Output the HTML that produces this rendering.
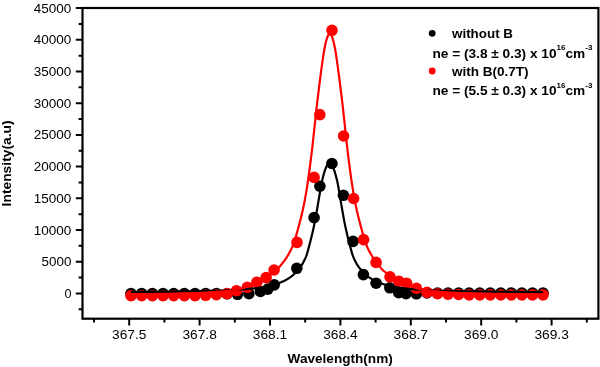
<!DOCTYPE html><html><head><meta charset="utf-8"><title>Spectrum</title><style>html,body{margin:0;padding:0;background:#fff}svg{display:block}</style></head><body><svg width="600" height="367" viewBox="0 0 600 367">
<rect width="600" height="367" fill="#fff"/>
<circle cx="131.0" cy="293.6" r="5.8" fill="#000"/>
<circle cx="141.67" cy="293.6" r="5.8" fill="#000"/>
<circle cx="152.34" cy="293.6" r="5.8" fill="#000"/>
<circle cx="163.01" cy="293.6" r="5.8" fill="#000"/>
<circle cx="173.68" cy="293.6" r="5.8" fill="#000"/>
<circle cx="184.35" cy="293.6" r="5.8" fill="#000"/>
<circle cx="195.01999999999998" cy="293.6" r="5.8" fill="#000"/>
<circle cx="205.69" cy="293.6" r="5.8" fill="#000"/>
<circle cx="216.36" cy="293.6" r="5.8" fill="#000"/>
<circle cx="227.03" cy="293.8" r="5.8" fill="#000"/>
<circle cx="237.5" cy="294.3" r="5.8" fill="#000"/>
<circle cx="248.9" cy="293.7" r="5.8" fill="#000"/>
<circle cx="260.4" cy="291.5" r="5.8" fill="#000"/>
<circle cx="267.8" cy="289.09999999999997" r="5.8" fill="#000"/>
<circle cx="274.2" cy="284.9" r="5.8" fill="#000"/>
<circle cx="296.8" cy="268.3" r="5.8" fill="#000"/>
<circle cx="314.1" cy="217.6" r="5.8" fill="#000"/>
<circle cx="319.9" cy="186.2" r="5.8" fill="#000"/>
<circle cx="331.9" cy="163.5" r="5.8" fill="#000"/>
<circle cx="343.4" cy="195.29999999999998" r="5.8" fill="#000"/>
<circle cx="353" cy="241.39999999999998" r="5.8" fill="#000"/>
<circle cx="363.4" cy="274.59999999999997" r="5.8" fill="#000"/>
<circle cx="376.1" cy="283.2" r="5.8" fill="#000"/>
<circle cx="389.8" cy="287.8" r="5.8" fill="#000"/>
<circle cx="398.7" cy="292.7" r="5.8" fill="#000"/>
<circle cx="406" cy="293.7" r="5.8" fill="#000"/>
<circle cx="416.4" cy="293.8" r="5.8" fill="#000"/>
<circle cx="426.95" cy="293.0" r="5.8" fill="#000"/>
<circle cx="437.5" cy="293.0" r="5.8" fill="#000"/>
<circle cx="448.04999999999995" cy="293.0" r="5.8" fill="#000"/>
<circle cx="458.59999999999997" cy="293.0" r="5.8" fill="#000"/>
<circle cx="469.15" cy="293.0" r="5.8" fill="#000"/>
<circle cx="479.7" cy="293.0" r="5.8" fill="#000"/>
<circle cx="490.25" cy="293.0" r="5.8" fill="#000"/>
<circle cx="500.79999999999995" cy="293.0" r="5.8" fill="#000"/>
<circle cx="511.34999999999997" cy="293.0" r="5.8" fill="#000"/>
<circle cx="521.9" cy="293.0" r="5.8" fill="#000"/>
<circle cx="532.45" cy="293.0" r="5.8" fill="#000"/>
<circle cx="543.0" cy="293.0" r="5.8" fill="#000"/>
<circle cx="131.0" cy="295.7" r="5.8" fill="#fe0000"/>
<circle cx="141.67" cy="295.7" r="5.8" fill="#fe0000"/>
<circle cx="152.34" cy="295.7" r="5.8" fill="#fe0000"/>
<circle cx="163.01" cy="295.7" r="5.8" fill="#fe0000"/>
<circle cx="173.68" cy="295.7" r="5.8" fill="#fe0000"/>
<circle cx="184.35" cy="295.7" r="5.8" fill="#fe0000"/>
<circle cx="195.01999999999998" cy="295.7" r="5.8" fill="#fe0000"/>
<circle cx="205.69" cy="295.3" r="5.8" fill="#fe0000"/>
<circle cx="216.36" cy="294.7" r="5.8" fill="#fe0000"/>
<circle cx="227.03" cy="293.6" r="5.8" fill="#fe0000"/>
<circle cx="236.5" cy="290.7" r="5.8" fill="#fe0000"/>
<circle cx="247.3" cy="287.3" r="5.8" fill="#fe0000"/>
<circle cx="256.9" cy="282.2" r="5.8" fill="#fe0000"/>
<circle cx="266.1" cy="277.59999999999997" r="5.8" fill="#fe0000"/>
<circle cx="274.1" cy="270.0" r="5.8" fill="#fe0000"/>
<circle cx="297" cy="242.39999999999998" r="5.8" fill="#fe0000"/>
<circle cx="314.1" cy="177.39999999999998" r="5.8" fill="#fe0000"/>
<circle cx="319.8" cy="114.60000000000001" r="5.8" fill="#fe0000"/>
<circle cx="332" cy="30.3" r="5.8" fill="#fe0000"/>
<circle cx="343.6" cy="136.0" r="5.8" fill="#fe0000"/>
<circle cx="353.6" cy="198.5" r="5.8" fill="#fe0000"/>
<circle cx="363.6" cy="239.6" r="5.8" fill="#fe0000"/>
<circle cx="376.1" cy="262.4" r="5.8" fill="#fe0000"/>
<circle cx="390" cy="276.8" r="5.8" fill="#fe0000"/>
<circle cx="398.9" cy="281.2" r="5.8" fill="#fe0000"/>
<circle cx="406.6" cy="283.2" r="5.8" fill="#fe0000"/>
<circle cx="416.4" cy="288.3" r="5.8" fill="#fe0000"/>
<circle cx="426.95" cy="292.4" r="5.8" fill="#fe0000"/>
<circle cx="437.5" cy="293.7" r="5.8" fill="#fe0000"/>
<circle cx="448.04999999999995" cy="294.2" r="5.8" fill="#fe0000"/>
<circle cx="458.59999999999997" cy="294.5" r="5.8" fill="#fe0000"/>
<circle cx="469.15" cy="294.9" r="5.8" fill="#fe0000"/>
<circle cx="479.7" cy="294.9" r="5.8" fill="#fe0000"/>
<circle cx="490.25" cy="294.9" r="5.8" fill="#fe0000"/>
<circle cx="500.79999999999995" cy="294.9" r="5.8" fill="#fe0000"/>
<circle cx="511.34999999999997" cy="294.9" r="5.8" fill="#fe0000"/>
<circle cx="521.9" cy="294.9" r="5.8" fill="#fe0000"/>
<circle cx="532.45" cy="294.9" r="5.8" fill="#fe0000"/>
<circle cx="543.0" cy="294.9" r="5.8" fill="#fe0000"/>
<path d="M131.00,291.97 L131.50,291.96 L132.00,291.96 L132.50,291.96 L133.00,291.95 L133.50,291.95 L134.00,291.95 L134.50,291.94 L135.00,291.94 L135.50,291.93 L136.00,291.93 L136.50,291.93 L137.00,291.92 L137.50,291.92 L138.00,291.92 L138.50,291.91 L139.00,291.91 L139.50,291.90 L140.00,291.90 L140.50,291.90 L141.00,291.89 L141.50,291.89 L142.00,291.88 L142.50,291.88 L143.00,291.88 L143.50,291.87 L144.00,291.87 L144.50,291.86 L145.00,291.86 L145.50,291.85 L146.00,291.85 L146.50,291.85 L147.00,291.84 L147.50,291.84 L148.00,291.83 L148.50,291.83 L149.00,291.82 L149.50,291.82 L150.00,291.81 L150.50,291.81 L151.00,291.80 L151.50,291.80 L152.00,291.80 L152.50,291.79 L153.00,291.79 L153.50,291.78 L154.00,291.78 L154.50,291.77 L155.00,291.77 L155.50,291.76 L156.00,291.76 L156.50,291.75 L157.00,291.75 L157.50,291.74 L158.00,291.74 L158.50,291.73 L159.00,291.73 L159.50,291.72 L160.00,291.72 L160.50,291.71 L161.00,291.70 L161.50,291.70 L162.00,291.69 L162.50,291.69 L163.00,291.68 L163.50,291.68 L164.00,291.67 L164.50,291.67 L165.00,291.66 L165.50,291.65 L166.00,291.65 L166.50,291.64 L167.00,291.64 L167.50,291.63 L168.00,291.62 L168.50,291.62 L169.00,291.61 L169.50,291.61 L170.00,291.60 L170.50,291.59 L171.00,291.59 L171.50,291.58 L172.00,291.57 L172.50,291.57 L173.00,291.56 L173.50,291.55 L174.00,291.55 L174.50,291.54 L175.00,291.53 L175.50,291.53 L176.00,291.52 L176.50,291.51 L177.00,291.51 L177.50,291.50 L178.00,291.49 L178.50,291.48 L179.00,291.48 L179.50,291.47 L180.00,291.46 L180.50,291.45 L181.00,291.45 L181.50,291.44 L182.00,291.43 L182.50,291.42 L183.00,291.42 L183.50,291.41 L184.00,291.40 L184.50,291.39 L185.00,291.38 L185.50,291.38 L186.00,291.37 L186.50,291.36 L187.00,291.35 L187.50,291.34 L188.00,291.33 L188.50,291.32 L189.00,291.32 L189.50,291.31 L190.00,291.30 L190.50,291.29 L191.00,291.28 L191.50,291.27 L192.00,291.26 L192.50,291.25 L193.00,291.24 L193.50,291.23 L194.00,291.22 L194.50,291.21 L195.00,291.20 L195.50,291.19 L196.00,291.18 L196.50,291.17 L197.00,291.16 L197.50,291.15 L198.00,291.14 L198.50,291.13 L199.00,291.12 L199.50,291.11 L200.00,291.10 L200.50,291.09 L201.00,291.08 L201.50,291.07 L202.00,291.05 L202.50,291.04 L203.00,291.03 L203.50,291.02 L204.00,291.01 L204.50,291.00 L205.00,290.99 L205.50,290.98 L206.00,290.97 L206.50,290.96 L207.00,290.95 L207.50,290.94 L208.00,290.93 L208.50,290.92 L209.00,290.91 L209.50,290.90 L210.00,290.89 L210.50,290.88 L211.00,290.87 L211.50,290.86 L212.00,290.85 L212.50,290.84 L213.00,290.83 L213.50,290.82 L214.00,290.81 L214.50,290.80 L215.00,290.79 L215.50,290.77 L216.00,290.76 L216.50,290.75 L217.00,290.74 L217.50,290.72 L218.00,290.71 L218.50,290.70 L219.00,290.68 L219.50,290.67 L220.00,290.65 L220.50,290.64 L221.00,290.62 L221.50,290.61 L222.00,290.59 L222.50,290.57 L223.00,290.56 L223.50,290.54 L224.00,290.52 L224.50,290.50 L225.00,290.48 L225.50,290.46 L226.00,290.44 L226.50,290.42 L227.00,290.40 L227.50,290.37 L228.00,290.35 L228.50,290.33 L229.00,290.30 L229.50,290.28 L230.00,290.26 L230.50,290.23 L231.00,290.21 L231.50,290.18 L232.00,290.15 L232.50,290.13 L233.00,290.10 L233.50,290.07 L234.00,290.05 L234.50,290.02 L235.00,289.99 L235.50,289.96 L236.00,289.93 L236.50,289.90 L237.00,289.87 L237.50,289.84 L238.00,289.81 L238.50,289.77 L239.00,289.74 L239.50,289.71 L240.00,289.67 L240.50,289.64 L241.00,289.60 L241.50,289.57 L242.00,289.53 L242.50,289.49 L243.00,289.45 L243.50,289.42 L244.00,289.38 L244.50,289.34 L245.00,289.30 L245.50,289.25 L246.00,289.21 L246.50,289.17 L247.00,289.13 L247.50,289.08 L248.00,289.04 L248.50,288.99 L249.00,288.94 L249.50,288.89 L250.00,288.85 L250.50,288.80 L251.00,288.74 L251.50,288.69 L252.00,288.64 L252.50,288.59 L253.00,288.53 L253.50,288.48 L254.00,288.42 L254.50,288.36 L255.00,288.30 L255.50,288.24 L256.00,288.18 L256.50,288.12 L257.00,288.05 L257.50,287.99 L258.00,287.92 L258.50,287.85 L259.00,287.78 L259.50,287.71 L260.00,287.64 L260.50,287.56 L261.00,287.49 L261.50,287.41 L262.00,287.33 L262.50,287.25 L263.00,287.16 L263.50,287.08 L264.00,286.99 L264.50,286.90 L265.00,286.81 L265.50,286.71 L266.00,286.61 L266.50,286.51 L267.00,286.41 L267.50,286.31 L268.00,286.20 L268.50,286.09 L269.00,285.98 L269.50,285.87 L270.00,285.75 L270.50,285.63 L271.00,285.51 L271.50,285.38 L272.00,285.25 L272.50,285.12 L273.00,284.98 L273.50,284.84 L274.00,284.70 L274.50,284.55 L275.00,284.40 L275.50,284.25 L276.00,284.09 L276.50,283.93 L277.00,283.77 L277.50,283.60 L278.00,283.42 L278.50,283.24 L279.00,283.06 L279.50,282.87 L280.00,282.68 L280.50,282.48 L281.00,282.28 L281.50,282.07 L282.00,281.85 L282.50,281.63 L283.00,281.40 L283.50,281.17 L284.00,280.93 L284.50,280.69 L285.00,280.43 L285.50,280.17 L286.00,279.90 L286.50,279.62 L287.00,279.33 L287.50,279.04 L288.00,278.73 L288.50,278.42 L289.00,278.09 L289.50,277.76 L290.00,277.41 L290.50,277.06 L291.00,276.69 L291.50,276.32 L292.00,275.93 L292.50,275.53 L293.00,275.11 L293.50,274.69 L294.00,274.25 L294.50,273.79 L295.00,273.32 L295.50,272.84 L296.00,272.34 L296.50,271.82 L297.00,271.28 L297.50,270.72 L298.00,270.14 L298.50,269.54 L299.00,268.92 L299.50,268.27 L300.00,267.60 L300.50,266.90 L301.00,266.18 L301.50,265.43 L302.00,264.64 L302.50,263.81 L303.00,262.94 L303.50,262.03 L304.00,261.07 L304.50,260.06 L305.00,259.00 L305.50,257.89 L306.00,256.69 L306.50,255.30 L307.00,253.74 L307.50,252.05 L308.00,250.26 L308.50,248.40 L309.00,246.50 L309.50,244.60 L310.00,242.72 L310.50,240.80 L311.00,238.85 L311.50,236.84 L312.00,234.78 L312.50,232.65 L313.00,230.46 L313.50,228.18 L314.00,225.82 L314.50,223.36 L315.00,220.82 L315.50,218.17 L316.00,215.42 L316.50,212.59 L317.00,209.70 L317.50,206.76 L318.00,203.81 L318.50,200.85 L319.00,197.91 L319.50,194.96 L320.00,191.95 L320.50,188.98 L321.00,186.15 L321.50,183.52 L322.00,181.12 L322.50,178.97 L323.00,177.02 L323.50,175.16 L324.00,173.40 L324.50,171.74 L325.00,170.20 L325.50,168.78 L326.00,167.50 L326.50,166.37 L327.00,165.39 L327.50,164.57 L328.00,163.91 L328.50,163.43 L329.00,163.13 L329.50,163.00 L330.00,163.06 L330.50,163.29 L331.00,163.70 L331.50,164.28 L332.00,165.04 L332.50,165.96 L333.00,167.03 L333.50,168.25 L334.00,169.61 L334.50,171.11 L335.00,172.72 L335.50,174.44 L336.00,176.27 L336.50,178.18 L337.00,180.23 L337.50,182.53 L338.00,185.07 L338.50,187.83 L339.00,190.75 L339.50,193.76 L340.00,196.75 L340.50,199.67 L341.00,202.62 L341.50,205.58 L342.00,208.53 L342.50,211.44 L343.00,214.30 L343.50,217.08 L344.00,219.77 L344.50,222.36 L345.00,224.85 L345.50,227.24 L346.00,229.55 L346.50,231.78 L347.00,233.94 L347.50,236.03 L348.00,238.05 L348.50,240.03 L349.00,241.96 L349.50,243.85 L350.00,245.74 L350.50,247.64 L351.00,249.52 L351.50,251.35 L352.00,253.08 L352.50,254.69 L353.00,256.15 L353.50,257.43 L354.00,258.57 L354.50,259.64 L355.00,260.67 L355.50,261.65 L356.00,262.58 L356.50,263.47 L357.00,264.32 L357.50,265.12 L358.00,265.88 L358.50,266.62 L359.00,267.32 L359.50,268.01 L360.00,268.66 L360.50,269.29 L361.00,269.90 L361.50,270.49 L362.00,271.06 L362.50,271.60 L363.00,272.13 L363.50,272.64 L364.00,273.13 L364.50,273.61 L365.00,274.07 L365.50,274.51 L366.00,274.94 L366.50,275.36 L367.00,275.77 L367.50,276.16 L368.00,276.54 L368.50,276.91 L369.00,277.27 L369.50,277.62 L370.00,277.96 L370.50,278.29 L371.00,278.61 L371.50,278.92 L372.00,279.21 L372.50,279.51 L373.00,279.79 L373.50,280.06 L374.00,280.33 L374.50,280.58 L375.00,280.83 L375.50,281.08 L376.00,281.31 L376.50,281.54 L377.00,281.76 L377.50,281.98 L378.00,282.19 L378.50,282.40 L379.00,282.60 L379.50,282.79 L380.00,282.98 L380.50,283.17 L381.00,283.35 L381.50,283.53 L382.00,283.70 L382.50,283.87 L383.00,284.03 L383.50,284.19 L384.00,284.34 L384.50,284.49 L385.00,284.64 L385.50,284.79 L386.00,284.93 L386.50,285.06 L387.00,285.20 L387.50,285.33 L388.00,285.46 L388.50,285.58 L389.00,285.70 L389.50,285.82 L390.00,285.94 L390.50,286.05 L391.00,286.16 L391.50,286.27 L392.00,286.37 L392.50,286.47 L393.00,286.57 L393.50,286.67 L394.00,286.77 L394.50,286.86 L395.00,286.95 L395.50,287.04 L396.00,287.13 L396.50,287.21 L397.00,287.30 L397.50,287.38 L398.00,287.46 L398.50,287.53 L399.00,287.61 L399.50,287.68 L400.00,287.76 L400.50,287.83 L401.00,287.89 L401.50,287.96 L402.00,288.03 L402.50,288.09 L403.00,288.16 L403.50,288.22 L404.00,288.28 L404.50,288.34 L405.00,288.40 L405.50,288.45 L406.00,288.51 L406.50,288.56 L407.00,288.62 L407.50,288.67 L408.00,288.72 L408.50,288.78 L409.00,288.83 L409.50,288.87 L410.00,288.92 L410.50,288.97 L411.00,289.02 L411.50,289.06 L412.00,289.11 L412.50,289.15 L413.00,289.19 L413.50,289.24 L414.00,289.28 L414.50,289.32 L415.00,289.36 L415.50,289.40 L416.00,289.44 L416.50,289.48 L417.00,289.51 L417.50,289.55 L418.00,289.59 L418.50,289.62 L419.00,289.66 L419.50,289.69 L420.00,289.73 L420.50,289.76 L421.00,289.79 L421.50,289.82 L422.00,289.86 L422.50,289.89 L423.00,289.92 L423.50,289.95 L424.00,289.98 L424.50,290.01 L425.00,290.03 L425.50,290.06 L426.00,290.09 L426.50,290.12 L427.00,290.14 L427.50,290.17 L428.00,290.20 L428.50,290.22 L429.00,290.25 L429.50,290.27 L430.00,290.29 L430.50,290.32 L431.00,290.34 L431.50,290.36 L432.00,290.39 L432.50,290.41 L433.00,290.43 L433.50,290.45 L434.00,290.47 L434.50,290.49 L435.00,290.51 L435.50,290.53 L436.00,290.55 L436.50,290.57 L437.00,290.58 L437.50,290.60 L438.00,290.62 L438.50,290.63 L439.00,290.65 L439.50,290.66 L440.00,290.68 L440.50,290.69 L441.00,290.71 L441.50,290.72 L442.00,290.73 L442.50,290.74 L443.00,290.76 L443.50,290.77 L444.00,290.78 L444.50,290.79 L445.00,290.80 L445.50,290.82 L446.00,290.83 L446.50,290.84 L447.00,290.85 L447.50,290.86 L448.00,290.87 L448.50,290.88 L449.00,290.89 L449.50,290.90 L450.00,290.91 L450.50,290.92 L451.00,290.93 L451.50,290.94 L452.00,290.95 L452.50,290.96 L453.00,290.97 L453.50,290.98 L454.00,290.99 L454.50,291.00 L455.00,291.01 L455.50,291.02 L456.00,291.03 L456.50,291.04 L457.00,291.05 L457.50,291.06 L458.00,291.07 L458.50,291.08 L459.00,291.09 L459.50,291.10 L460.00,291.11 L460.50,291.13 L461.00,291.14 L461.50,291.15 L462.00,291.16 L462.50,291.17 L463.00,291.18 L463.50,291.19 L464.00,291.20 L464.50,291.21 L465.00,291.22 L465.50,291.23 L466.00,291.24 L466.50,291.25 L467.00,291.26 L467.50,291.27 L468.00,291.28 L468.50,291.28 L469.00,291.29 L469.50,291.30 L470.00,291.31 L470.50,291.32 L471.00,291.33 L471.50,291.34 L472.00,291.35 L472.50,291.36 L473.00,291.36 L473.50,291.37 L474.00,291.38 L474.50,291.39 L475.00,291.40 L475.50,291.40 L476.00,291.41 L476.50,291.42 L477.00,291.43 L477.50,291.44 L478.00,291.44 L478.50,291.45 L479.00,291.46 L479.50,291.47 L480.00,291.47 L480.50,291.48 L481.00,291.49 L481.50,291.50 L482.00,291.50 L482.50,291.51 L483.00,291.52 L483.50,291.52 L484.00,291.53 L484.50,291.54 L485.00,291.54 L485.50,291.55 L486.00,291.56 L486.50,291.56 L487.00,291.57 L487.50,291.58 L488.00,291.58 L488.50,291.59 L489.00,291.60 L489.50,291.60 L490.00,291.61 L490.50,291.62 L491.00,291.62 L491.50,291.63 L492.00,291.63 L492.50,291.64 L493.00,291.65 L493.50,291.65 L494.00,291.66 L494.50,291.66 L495.00,291.67 L495.50,291.67 L496.00,291.68 L496.50,291.69 L497.00,291.69 L497.50,291.70 L498.00,291.70 L498.50,291.71 L499.00,291.71 L499.50,291.72 L500.00,291.72 L500.50,291.73 L501.00,291.73 L501.50,291.74 L502.00,291.74 L502.50,291.75 L503.00,291.75 L503.50,291.76 L504.00,291.76 L504.50,291.77 L505.00,291.77 L505.50,291.78 L506.00,291.78 L506.50,291.79 L507.00,291.79 L507.50,291.80 L508.00,291.80 L508.50,291.81 L509.00,291.81 L509.50,291.82 L510.00,291.82 L510.50,291.83 L511.00,291.83 L511.50,291.84 L512.00,291.84 L512.50,291.84 L513.00,291.85 L513.50,291.85 L514.00,291.86 L514.50,291.86 L515.00,291.87 L515.50,291.87 L516.00,291.87 L516.50,291.88 L517.00,291.88 L517.50,291.89 L518.00,291.89 L518.50,291.89 L519.00,291.90 L519.50,291.90 L520.00,291.91 L520.50,291.91 L521.00,291.91 L521.50,291.92 L522.00,291.92 L522.50,291.93 L523.00,291.93 L523.50,291.93 L524.00,291.94 L524.50,291.94 L525.00,291.94 L525.50,291.95 L526.00,291.95 L526.50,291.96 L527.00,291.96 L527.50,291.96 L528.00,291.97 L528.50,291.97 L529.00,291.97 L529.50,291.98 L530.00,291.98 L530.50,291.98 L531.00,291.99 L531.50,291.99 L532.00,291.99 L532.50,292.00 L533.00,292.00 L533.50,292.00 L534.00,292.01 L534.50,292.01 L535.00,292.01 L535.50,292.02 L536.00,292.02 L536.50,292.02 L537.00,292.03 L537.50,292.03 L538.00,292.03 L538.50,292.04 L539.00,292.04 L539.50,292.04 L540.00,292.04 L540.50,292.05 L541.00,292.05 L541.50,292.05 L542.00,292.06 L542.50,292.06 L543.00,292.06" fill="none" stroke="#000" stroke-width="2.2" stroke-linejoin="round"/>
<path d="M131.00,294.54 L131.50,294.54 L132.00,294.53 L132.50,294.53 L133.00,294.52 L133.50,294.52 L134.00,294.51 L134.50,294.51 L135.00,294.50 L135.50,294.50 L136.00,294.49 L136.50,294.49 L137.00,294.48 L137.50,294.47 L138.00,294.47 L138.50,294.46 L139.00,294.46 L139.50,294.45 L140.00,294.44 L140.50,294.44 L141.00,294.43 L141.50,294.43 L142.00,294.42 L142.50,294.41 L143.00,294.41 L143.50,294.40 L144.00,294.39 L144.50,294.39 L145.00,294.38 L145.50,294.37 L146.00,294.37 L146.50,294.36 L147.00,294.35 L147.50,294.35 L148.00,294.34 L148.50,294.33 L149.00,294.33 L149.50,294.32 L150.00,294.31 L150.50,294.30 L151.00,294.30 L151.50,294.29 L152.00,294.28 L152.50,294.27 L153.00,294.27 L153.50,294.26 L154.00,294.25 L154.50,294.24 L155.00,294.23 L155.50,294.22 L156.00,294.22 L156.50,294.21 L157.00,294.20 L157.50,294.19 L158.00,294.18 L158.50,294.17 L159.00,294.17 L159.50,294.16 L160.00,294.15 L160.50,294.14 L161.00,294.13 L161.50,294.12 L162.00,294.11 L162.50,294.10 L163.00,294.09 L163.50,294.08 L164.00,294.07 L164.50,294.06 L165.00,294.05 L165.50,294.04 L166.00,294.03 L166.50,294.02 L167.00,294.01 L167.50,294.00 L168.00,293.99 L168.50,293.98 L169.00,293.97 L169.50,293.96 L170.00,293.94 L170.50,293.93 L171.00,293.92 L171.50,293.91 L172.00,293.90 L172.50,293.89 L173.00,293.87 L173.50,293.86 L174.00,293.85 L174.50,293.84 L175.00,293.82 L175.50,293.81 L176.00,293.80 L176.50,293.79 L177.00,293.77 L177.50,293.76 L178.00,293.74 L178.50,293.73 L179.00,293.72 L179.50,293.70 L180.00,293.69 L180.50,293.67 L181.00,293.66 L181.50,293.65 L182.00,293.63 L182.50,293.62 L183.00,293.60 L183.50,293.58 L184.00,293.57 L184.50,293.55 L185.00,293.54 L185.50,293.52 L186.00,293.50 L186.50,293.49 L187.00,293.47 L187.50,293.45 L188.00,293.44 L188.50,293.42 L189.00,293.40 L189.50,293.38 L190.00,293.36 L190.50,293.35 L191.00,293.33 L191.50,293.31 L192.00,293.29 L192.50,293.27 L193.00,293.25 L193.50,293.23 L194.00,293.21 L194.50,293.19 L195.00,293.17 L195.50,293.15 L196.00,293.13 L196.50,293.10 L197.00,293.08 L197.50,293.06 L198.00,293.04 L198.50,293.01 L199.00,292.99 L199.50,292.97 L200.00,292.94 L200.50,292.92 L201.00,292.90 L201.50,292.87 L202.00,292.85 L202.50,292.82 L203.00,292.79 L203.50,292.77 L204.00,292.74 L204.50,292.72 L205.00,292.69 L205.50,292.66 L206.00,292.63 L206.50,292.60 L207.00,292.57 L207.50,292.55 L208.00,292.52 L208.50,292.49 L209.00,292.46 L209.50,292.42 L210.00,292.39 L210.50,292.36 L211.00,292.33 L211.50,292.30 L212.00,292.26 L212.50,292.23 L213.00,292.19 L213.50,292.16 L214.00,292.12 L214.50,292.09 L215.00,292.05 L215.50,292.01 L216.00,291.98 L216.50,291.94 L217.00,291.90 L217.50,291.86 L218.00,291.82 L218.50,291.78 L219.00,291.74 L219.50,291.70 L220.00,291.65 L220.50,291.61 L221.00,291.57 L221.50,291.52 L222.00,291.48 L222.50,291.43 L223.00,291.38 L223.50,291.34 L224.00,291.29 L224.50,291.24 L225.00,291.19 L225.50,291.14 L226.00,291.09 L226.50,291.03 L227.00,290.98 L227.50,290.93 L228.00,290.87 L228.50,290.81 L229.00,290.76 L229.50,290.70 L230.00,290.64 L230.50,290.58 L231.00,290.52 L231.50,290.46 L232.00,290.39 L232.50,290.33 L233.00,290.26 L233.50,290.20 L234.00,290.13 L234.50,290.06 L235.00,289.99 L235.50,289.92 L236.00,289.85 L236.50,289.77 L237.00,289.70 L237.50,289.62 L238.00,289.54 L238.50,289.45 L239.00,289.35 L239.50,289.25 L240.00,289.13 L240.50,289.00 L241.00,288.86 L241.50,288.72 L242.00,288.57 L242.50,288.41 L243.00,288.25 L243.50,288.07 L244.00,287.90 L244.50,287.72 L245.00,287.53 L245.50,287.34 L246.00,287.15 L246.50,286.96 L247.00,286.77 L247.50,286.57 L248.00,286.38 L248.50,286.18 L249.00,285.98 L249.50,285.76 L250.00,285.54 L250.50,285.31 L251.00,285.08 L251.50,284.84 L252.00,284.60 L252.50,284.35 L253.00,284.10 L253.50,283.84 L254.00,283.59 L254.50,283.33 L255.00,283.07 L255.50,282.81 L256.00,282.56 L256.50,282.31 L257.00,282.06 L257.50,281.81 L258.00,281.57 L258.50,281.33 L259.00,281.08 L259.50,280.83 L260.00,280.57 L260.50,280.31 L261.00,280.05 L261.50,279.78 L262.00,279.51 L262.50,279.25 L263.00,278.98 L263.50,278.70 L264.00,278.43 L264.50,278.17 L265.00,277.90 L265.50,277.63 L266.00,277.37 L266.50,277.10 L267.00,276.83 L267.50,276.55 L268.00,276.26 L268.50,275.97 L269.00,275.67 L269.50,275.37 L270.00,275.06 L270.50,274.74 L271.00,274.41 L271.50,274.08 L272.00,273.74 L272.50,273.39 L273.00,273.03 L273.50,272.66 L274.00,272.29 L274.50,271.90 L275.00,271.51 L275.50,271.11 L276.00,270.70 L276.50,270.27 L277.00,269.83 L277.50,269.33 L278.00,268.77 L278.50,268.17 L279.00,267.54 L279.50,266.89 L280.00,266.25 L280.50,265.62 L281.00,265.02 L281.50,264.42 L282.00,263.80 L282.50,263.18 L283.00,262.54 L283.50,261.88 L284.00,261.21 L284.50,260.53 L285.00,259.82 L285.50,259.09 L286.00,258.35 L286.50,257.58 L287.00,256.80 L287.50,255.99 L288.00,255.17 L288.50,254.32 L289.00,253.45 L289.50,252.55 L290.00,251.62 L290.50,250.66 L291.00,249.67 L291.50,248.64 L292.00,247.58 L292.50,246.47 L293.00,245.31 L293.50,244.02 L294.00,242.60 L294.50,241.08 L295.00,239.47 L295.50,237.79 L296.00,236.07 L296.50,234.34 L297.00,232.62 L297.50,230.83 L298.00,229.00 L298.50,227.12 L299.00,225.21 L299.50,223.29 L300.00,221.36 L300.50,219.41 L301.00,217.41 L301.50,215.38 L302.00,213.28 L302.50,211.13 L303.00,208.90 L303.50,206.59 L304.00,204.19 L304.50,201.69 L305.00,199.07 L305.50,196.33 L306.00,193.45 L306.50,190.44 L307.00,187.30 L307.50,184.04 L308.00,180.66 L308.50,177.16 L309.00,173.55 L309.50,169.84 L310.00,166.02 L310.50,162.12 L311.00,158.13 L311.50,154.06 L312.00,149.91 L312.50,145.58 L313.00,141.10 L313.50,136.51 L314.00,131.85 L314.50,127.15 L315.00,122.45 L315.50,117.78 L316.00,113.18 L316.50,108.66 L317.00,104.26 L317.50,99.99 L318.00,95.85 L318.50,91.78 L319.00,87.74 L319.50,83.76 L320.00,79.82 L320.50,75.95 L321.00,72.14 L321.50,68.42 L322.00,64.78 L322.50,61.16 L323.00,57.65 L323.50,54.33 L324.00,51.26 L324.50,48.47 L325.00,45.96 L325.50,43.66 L326.00,41.58 L326.50,39.74 L327.00,38.13 L327.50,36.78 L328.00,35.69 L328.50,34.86 L329.00,34.31 L329.50,34.03 L330.00,34.03 L330.50,34.31 L331.00,34.86 L331.50,35.69 L332.00,36.78 L332.50,38.13 L333.00,39.74 L333.50,41.58 L334.00,43.66 L334.50,45.96 L335.00,48.47 L335.50,51.26 L336.00,54.33 L336.50,57.65 L337.00,61.16 L337.50,64.78 L338.00,68.42 L338.50,72.14 L339.00,75.95 L339.50,79.82 L340.00,83.76 L340.50,87.74 L341.00,91.78 L341.50,95.85 L342.00,99.99 L342.50,104.26 L343.00,108.66 L343.50,113.18 L344.00,117.78 L344.50,122.45 L345.00,127.15 L345.50,131.85 L346.00,136.51 L346.50,141.10 L347.00,145.58 L347.50,149.91 L348.00,154.06 L348.50,158.13 L349.00,162.12 L349.50,166.02 L350.00,169.84 L350.50,173.55 L351.00,177.16 L351.50,180.66 L352.00,184.04 L352.50,187.30 L353.00,190.44 L353.50,193.45 L354.00,196.33 L354.50,199.07 L355.00,201.69 L355.50,204.19 L356.00,206.59 L356.50,208.90 L357.00,211.13 L357.50,213.28 L358.00,215.38 L358.50,217.41 L359.00,219.41 L359.50,221.36 L360.00,223.29 L360.50,225.21 L361.00,227.12 L361.50,229.00 L362.00,230.83 L362.50,232.62 L363.00,234.34 L363.50,236.07 L364.00,237.79 L364.50,239.47 L365.00,241.08 L365.50,242.60 L366.00,244.02 L366.50,245.31 L367.00,246.47 L367.50,247.58 L368.00,248.64 L368.50,249.67 L369.00,250.66 L369.50,251.62 L370.00,252.55 L370.50,253.45 L371.00,254.32 L371.50,255.17 L372.00,255.99 L372.50,256.80 L373.00,257.58 L373.50,258.35 L374.00,259.09 L374.50,259.82 L375.00,260.53 L375.50,261.21 L376.00,261.88 L376.50,262.54 L377.00,263.18 L377.50,263.80 L378.00,264.42 L378.50,265.02 L379.00,265.62 L379.50,266.25 L380.00,266.89 L380.50,267.54 L381.00,268.17 L381.50,268.77 L382.00,269.33 L382.50,269.83 L383.00,270.27 L383.50,270.70 L384.00,271.11 L384.50,271.51 L385.00,271.90 L385.50,272.29 L386.00,272.66 L386.50,273.03 L387.00,273.39 L387.50,273.74 L388.00,274.08 L388.50,274.41 L389.00,274.74 L389.50,275.06 L390.00,275.37 L390.50,275.67 L391.00,275.97 L391.50,276.26 L392.00,276.55 L392.50,276.83 L393.00,277.10 L393.50,277.37 L394.00,277.63 L394.50,277.90 L395.00,278.17 L395.50,278.43 L396.00,278.70 L396.50,278.98 L397.00,279.25 L397.50,279.51 L398.00,279.78 L398.50,280.05 L399.00,280.31 L399.50,280.57 L400.00,280.83 L400.50,281.08 L401.00,281.33 L401.50,281.57 L402.00,281.81 L402.50,282.06 L403.00,282.31 L403.50,282.56 L404.00,282.81 L404.50,283.07 L405.00,283.33 L405.50,283.59 L406.00,283.84 L406.50,284.10 L407.00,284.35 L407.50,284.60 L408.00,284.84 L408.50,285.08 L409.00,285.31 L409.50,285.54 L410.00,285.76 L410.50,285.98 L411.00,286.18 L411.50,286.38 L412.00,286.57 L412.50,286.77 L413.00,286.96 L413.50,287.15 L414.00,287.34 L414.50,287.53 L415.00,287.72 L415.50,287.90 L416.00,288.07 L416.50,288.25 L417.00,288.41 L417.50,288.57 L418.00,288.72 L418.50,288.86 L419.00,289.00 L419.50,289.13 L420.00,289.25 L420.50,289.35 L421.00,289.45 L421.50,289.54 L422.00,289.62 L422.50,289.70 L423.00,289.77 L423.50,289.85 L424.00,289.92 L424.50,289.99 L425.00,290.06 L425.50,290.13 L426.00,290.20 L426.50,290.26 L427.00,290.33 L427.50,290.39 L428.00,290.46 L428.50,290.52 L429.00,290.58 L429.50,290.64 L430.00,290.70 L430.50,290.76 L431.00,290.81 L431.50,290.87 L432.00,290.93 L432.50,290.98 L433.00,291.03 L433.50,291.09 L434.00,291.14 L434.50,291.19 L435.00,291.24 L435.50,291.29 L436.00,291.34 L436.50,291.38 L437.00,291.43 L437.50,291.48 L438.00,291.52 L438.50,291.57 L439.00,291.61 L439.50,291.65 L440.00,291.70 L440.50,291.74 L441.00,291.78 L441.50,291.82 L442.00,291.86 L442.50,291.90 L443.00,291.94 L443.50,291.98 L444.00,292.01 L444.50,292.05 L445.00,292.09 L445.50,292.12 L446.00,292.16 L446.50,292.19 L447.00,292.23 L447.50,292.26 L448.00,292.30 L448.50,292.33 L449.00,292.36 L449.50,292.39 L450.00,292.42 L450.50,292.46 L451.00,292.49 L451.50,292.52 L452.00,292.55 L452.50,292.57 L453.00,292.60 L453.50,292.63 L454.00,292.66 L454.50,292.69 L455.00,292.72 L455.50,292.74 L456.00,292.77 L456.50,292.79 L457.00,292.82 L457.50,292.85 L458.00,292.87 L458.50,292.90 L459.00,292.92 L459.50,292.94 L460.00,292.97 L460.50,292.99 L461.00,293.01 L461.50,293.04 L462.00,293.06 L462.50,293.08 L463.00,293.10 L463.50,293.13 L464.00,293.15 L464.50,293.17 L465.00,293.19 L465.50,293.21 L466.00,293.23 L466.50,293.25 L467.00,293.27 L467.50,293.29 L468.00,293.31 L468.50,293.33 L469.00,293.35 L469.50,293.36 L470.00,293.38 L470.50,293.40 L471.00,293.42 L471.50,293.44 L472.00,293.45 L472.50,293.47 L473.00,293.49 L473.50,293.50 L474.00,293.52 L474.50,293.54 L475.00,293.55 L475.50,293.57 L476.00,293.58 L476.50,293.60 L477.00,293.62 L477.50,293.63 L478.00,293.65 L478.50,293.66 L479.00,293.67 L479.50,293.69 L480.00,293.70 L480.50,293.72 L481.00,293.73 L481.50,293.74 L482.00,293.76 L482.50,293.77 L483.00,293.79 L483.50,293.80 L484.00,293.81 L484.50,293.82 L485.00,293.84 L485.50,293.85 L486.00,293.86 L486.50,293.87 L487.00,293.89 L487.50,293.90 L488.00,293.91 L488.50,293.92 L489.00,293.93 L489.50,293.94 L490.00,293.96 L490.50,293.97 L491.00,293.98 L491.50,293.99 L492.00,294.00 L492.50,294.01 L493.00,294.02 L493.50,294.03 L494.00,294.04 L494.50,294.05 L495.00,294.06 L495.50,294.07 L496.00,294.08 L496.50,294.09 L497.00,294.10 L497.50,294.11 L498.00,294.12 L498.50,294.13 L499.00,294.14 L499.50,294.15 L500.00,294.16 L500.50,294.17 L501.00,294.17 L501.50,294.18 L502.00,294.19 L502.50,294.20 L503.00,294.21 L503.50,294.22 L504.00,294.22 L504.50,294.23 L505.00,294.24 L505.50,294.25 L506.00,294.26 L506.50,294.27 L507.00,294.27 L507.50,294.28 L508.00,294.29 L508.50,294.30 L509.00,294.30 L509.50,294.31 L510.00,294.32 L510.50,294.33 L511.00,294.33 L511.50,294.34 L512.00,294.35 L512.50,294.35 L513.00,294.36 L513.50,294.37 L514.00,294.37 L514.50,294.38 L515.00,294.39 L515.50,294.39 L516.00,294.40 L516.50,294.41 L517.00,294.41 L517.50,294.42 L518.00,294.43 L518.50,294.43 L519.00,294.44 L519.50,294.44 L520.00,294.45 L520.50,294.46 L521.00,294.46 L521.50,294.47 L522.00,294.47 L522.50,294.48 L523.00,294.49 L523.50,294.49 L524.00,294.50 L524.50,294.50 L525.00,294.51 L525.50,294.51 L526.00,294.52 L526.50,294.52 L527.00,294.53 L527.50,294.53 L528.00,294.54 L528.50,294.54 L529.00,294.55 L529.50,294.55 L530.00,294.56 L530.50,294.56 L531.00,294.57 L531.50,294.57 L532.00,294.58 L532.50,294.58 L533.00,294.59 L533.50,294.59 L534.00,294.60 L534.50,294.60 L535.00,294.61 L535.50,294.61 L536.00,294.62 L536.50,294.62 L537.00,294.62 L537.50,294.63 L538.00,294.63 L538.50,294.64 L539.00,294.64 L539.50,294.65 L540.00,294.65 L540.50,294.65 L541.00,294.66 L541.50,294.66 L542.00,294.67 L542.50,294.67 L543.00,294.67" fill="none" stroke="#fe0000" stroke-width="2.2" stroke-linejoin="round"/>
<rect x="82.5" y="8" width="515.9" height="310.7" fill="none" stroke="#000" stroke-width="2.2"/>
<path d="M82.5,293.40H75.8 M82.5,277.55H78.6 M82.5,261.70H75.8 M82.5,245.85H78.6 M82.5,230.00H75.8 M82.5,214.15H78.6 M82.5,198.30H75.8 M82.5,182.45H78.6 M82.5,166.60H75.8 M82.5,150.75H78.6 M82.5,134.90H75.8 M82.5,119.05H78.6 M82.5,103.20H75.8 M82.5,87.35H78.6 M82.5,71.50H75.8 M82.5,55.65H78.6 M82.5,39.80H75.8 M82.5,23.95H78.6 M82.5,8.10H75.8 M82.5,309.25H78.6 M129.20,318.7V325.4 M94.00,318.7V322.6 M199.60,318.7V325.4 M164.40,318.7V322.6 M270.00,318.7V325.4 M234.80,318.7V322.6 M340.40,318.7V325.4 M305.20,318.7V322.6 M410.80,318.7V325.4 M375.60,318.7V322.6 M481.20,318.7V325.4 M446.00,318.7V322.6 M551.60,318.7V325.4 M516.40,318.7V322.6 M586.80,318.7V322.6" stroke="#000" stroke-width="2" fill="none"/>
<g font-family="Liberation Sans, Arial, sans-serif" font-size="12.6" fill="#000">
<text x="71.4" y="297.90" text-anchor="end" textLength="7.0" lengthAdjust="spacingAndGlyphs">0</text>
<text x="71.4" y="266.20" text-anchor="end" textLength="29.9" lengthAdjust="spacingAndGlyphs">5000</text>
<text x="71.4" y="234.50" text-anchor="end" textLength="37.6" lengthAdjust="spacingAndGlyphs">10000</text>
<text x="71.4" y="202.80" text-anchor="end" textLength="37.6" lengthAdjust="spacingAndGlyphs">15000</text>
<text x="71.4" y="171.10" text-anchor="end" textLength="37.6" lengthAdjust="spacingAndGlyphs">20000</text>
<text x="71.4" y="139.40" text-anchor="end" textLength="37.6" lengthAdjust="spacingAndGlyphs">25000</text>
<text x="71.4" y="107.70" text-anchor="end" textLength="37.6" lengthAdjust="spacingAndGlyphs">30000</text>
<text x="71.4" y="76.00" text-anchor="end" textLength="37.6" lengthAdjust="spacingAndGlyphs">35000</text>
<text x="71.4" y="44.30" text-anchor="end" textLength="37.6" lengthAdjust="spacingAndGlyphs">40000</text>
<text x="71.4" y="12.60" text-anchor="end" textLength="37.6" lengthAdjust="spacingAndGlyphs">45000</text>
<text x="129.20" y="339.1" text-anchor="middle" textLength="34.4" lengthAdjust="spacingAndGlyphs">367.5</text>
<text x="199.60" y="339.1" text-anchor="middle" textLength="34.4" lengthAdjust="spacingAndGlyphs">367.8</text>
<text x="270.00" y="339.1" text-anchor="middle" textLength="34.4" lengthAdjust="spacingAndGlyphs">368.1</text>
<text x="340.40" y="339.1" text-anchor="middle" textLength="34.4" lengthAdjust="spacingAndGlyphs">368.4</text>
<text x="410.80" y="339.1" text-anchor="middle" textLength="34.4" lengthAdjust="spacingAndGlyphs">368.7</text>
<text x="481.20" y="339.1" text-anchor="middle" textLength="34.4" lengthAdjust="spacingAndGlyphs">369.0</text>
<text x="551.60" y="339.1" text-anchor="middle" textLength="34.4" lengthAdjust="spacingAndGlyphs">369.3</text>
</g>
<g font-family="Liberation Sans, Arial, sans-serif" font-weight="bold" fill="#000" font-size="12.3">
<text transform="translate(340.2,363.3) scale(1.105,1)" text-anchor="middle">Wavelength(nm)</text>
<text transform="translate(11.2,163.4) rotate(-90) scale(1.125,1)" text-anchor="middle">Intensity(a.u)</text>
<text transform="translate(452.0,37.8) scale(1.09,1)" text-anchor="start">without B</text>
<text transform="translate(432.4,57.6) scale(1.112,1)" text-anchor="start">ne = (3.8 ± 0.3) x 10<tspan font-size="7.2" dy="-7.2">16</tspan><tspan dy="7.2">cm</tspan><tspan font-size="7.2" dy="-7.2">-3</tspan></text>
<text transform="translate(452.0,76.2) scale(1.1,1)" text-anchor="start">with B(0.7T)</text>
<text transform="translate(432.4,95.0) scale(1.112,1)" text-anchor="start">ne = (5.5 ± 0.3) x 10<tspan font-size="7.2" dy="-7.2">16</tspan><tspan dy="7.2">cm</tspan><tspan font-size="7.2" dy="-7.2">-3</tspan></text>
</g>
<circle cx="432.2" cy="33.3" r="3.4" fill="#000"/><circle cx="432.2" cy="71" r="3.4" fill="#fe0000"/>
</svg></body></html>
